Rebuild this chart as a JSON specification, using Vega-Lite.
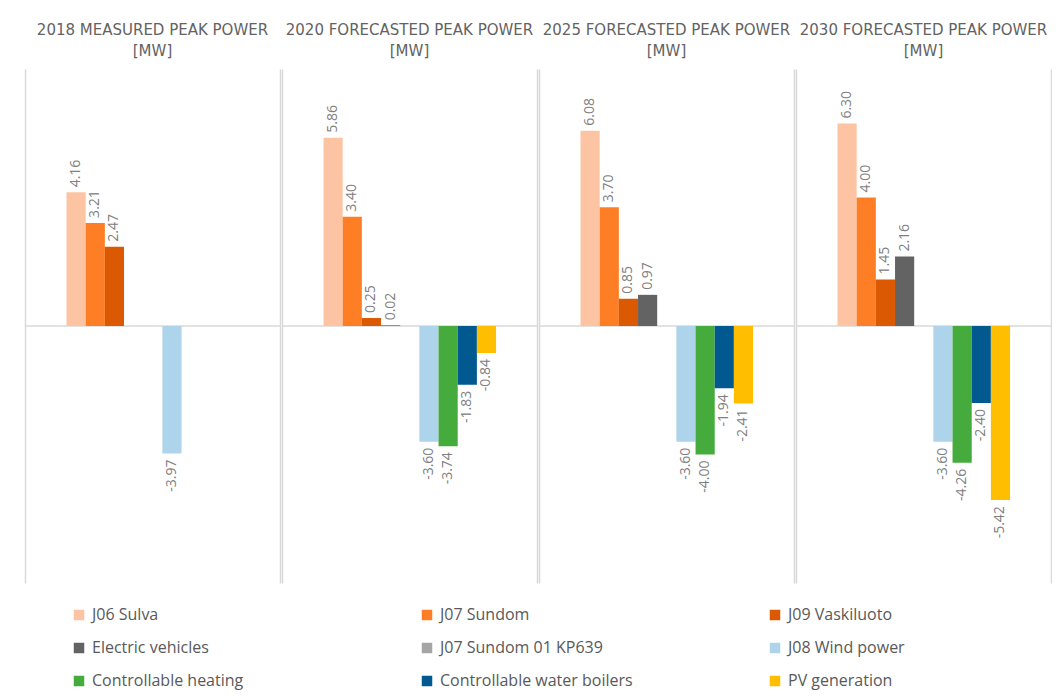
{
  "$schema": "https://vega.github.io/schema/vega-lite/v6.json",
  "background": "white",
  "padding": {"left": 24, "top": 23, "right": 0, "bottom": 10},
  "data": {
    "values": [
      {"panel": "2018 MEASURED PEAK POWER|[MW]", "series": "J06 Sulva", "value": 4.16},
      {"panel": "2018 MEASURED PEAK POWER|[MW]", "series": "J07 Sundom", "value": 3.21},
      {"panel": "2018 MEASURED PEAK POWER|[MW]", "series": "J09 Vaskiluoto", "value": 2.47},
      {"panel": "2018 MEASURED PEAK POWER|[MW]", "series": "J08 Wind power", "value": -3.97},
      {"panel": "2020 FORECASTED PEAK POWER|[MW]", "series": "J06 Sulva", "value": 5.86},
      {"panel": "2020 FORECASTED PEAK POWER|[MW]", "series": "J07 Sundom", "value": 3.40},
      {"panel": "2020 FORECASTED PEAK POWER|[MW]", "series": "J09 Vaskiluoto", "value": 0.25},
      {"panel": "2020 FORECASTED PEAK POWER|[MW]", "series": "Electric vehicles", "value": 0.02},
      {"panel": "2020 FORECASTED PEAK POWER|[MW]", "series": "J08 Wind power", "value": -3.60},
      {"panel": "2020 FORECASTED PEAK POWER|[MW]", "series": "Controllable heating", "value": -3.74},
      {"panel": "2020 FORECASTED PEAK POWER|[MW]", "series": "Controllable water boilers", "value": -1.83},
      {"panel": "2020 FORECASTED PEAK POWER|[MW]", "series": "PV generation", "value": -0.84},
      {"panel": "2025 FORECASTED PEAK POWER|[MW]", "series": "J06 Sulva", "value": 6.08},
      {"panel": "2025 FORECASTED PEAK POWER|[MW]", "series": "J07 Sundom", "value": 3.70},
      {"panel": "2025 FORECASTED PEAK POWER|[MW]", "series": "J09 Vaskiluoto", "value": 0.85},
      {"panel": "2025 FORECASTED PEAK POWER|[MW]", "series": "Electric vehicles", "value": 0.97},
      {"panel": "2025 FORECASTED PEAK POWER|[MW]", "series": "J08 Wind power", "value": -3.60},
      {"panel": "2025 FORECASTED PEAK POWER|[MW]", "series": "Controllable heating", "value": -4.00},
      {"panel": "2025 FORECASTED PEAK POWER|[MW]", "series": "Controllable water boilers", "value": -1.94},
      {"panel": "2025 FORECASTED PEAK POWER|[MW]", "series": "PV generation", "value": -2.41},
      {"panel": "2030 FORECASTED PEAK POWER|[MW]", "series": "J06 Sulva", "value": 6.30},
      {"panel": "2030 FORECASTED PEAK POWER|[MW]", "series": "J07 Sundom", "value": 4.00},
      {"panel": "2030 FORECASTED PEAK POWER|[MW]", "series": "J09 Vaskiluoto", "value": 1.45},
      {"panel": "2030 FORECASTED PEAK POWER|[MW]", "series": "Electric vehicles", "value": 2.16},
      {"panel": "2030 FORECASTED PEAK POWER|[MW]", "series": "J08 Wind power", "value": -3.60},
      {"panel": "2030 FORECASTED PEAK POWER|[MW]", "series": "Controllable heating", "value": -4.26},
      {"panel": "2030 FORECASTED PEAK POWER|[MW]", "series": "Controllable water boilers", "value": -2.40},
      {"panel": "2030 FORECASTED PEAK POWER|[MW]", "series": "PV generation", "value": -5.42}
    ]
  },
  "facet": {
    "column": {
      "field": "panel",
      "type": "nominal",
      "title": null,
      "header": {
        "labelExpr": "split(datum.value, '|')",
        "labelFont": "DejaVu Sans",
        "labelFontSize": 15,
        "labelColor": "#636363",
        "labelLineHeight": 21,
        "labelPadding": 10
      }
    }
  },
  "spacing": 0,
  "resolve": {"axis": {"y": "independent"}},
  "spec": {
    "width": 255,
    "height": 514,
    "layer": [
      {
        "transform": [{"aggregate": [{"op": "count", "as": "n"}], "groupby": ["panel"]}],
        "mark": {"type": "rule", "color": "#d9d9d9", "strokeWidth": 1.5},
        "encoding": {
          "y": {"datum": 0, "type": "quantitative", "scale": {"domain": [-8, 8], "nice": false}, "axis": {"orient": "left"}}
        }
      },
      {
        "mark": {"type": "bar"},
        "encoding": {
          "x": {
            "field": "series",
            "type": "nominal",
            "axis": null,
            "scale": {
              "domain": ["pad1", "pad2", "J06 Sulva", "J07 Sundom", "J09 Vaskiluoto", "Electric vehicles", "J07 Sundom 01 KP639", "J08 Wind power", "Controllable heating", "Controllable water boilers", "PV generation", "pad3", "pad4"],
              "paddingInner": 0,
              "paddingOuter": 0.15,
              "align": 0.55
            }
          },
          "y": {"field": "value", "type": "quantitative", "axis": {"orient": "right"}},
          "color": {
            "field": "series",
            "type": "nominal",
            "scale": {
              "domain": ["J06 Sulva", "J07 Sundom", "J09 Vaskiluoto", "Electric vehicles", "J07 Sundom 01 KP639", "J08 Wind power", "Controllable heating", "Controllable water boilers", "PV generation"],
              "range": ["#fdc4a4", "#fd7e24", "#dc5903", "#636363", "#a5a5a5", "#aed4eb", "#44ab3c", "#02598f", "#ffbe00"]
            },
            "legend": {
              "title": null,
              "orient": "none",
              "legendX": 46,
              "legendY": 538,
              "columns": 3,
              "direction": "horizontal",
              "gridAlign": "all",
              "columnPadding": 134,
              "rowPadding": 17,
              "symbolType": "square",
              "symbolSize": 110,
              "symbolStrokeWidth": 0,
              "labelFont": "Open Sans",
              "labelFontSize": 16,
              "labelColor": "#595959",
              "labelOffset": 5,
              "labelLimit": 300
            }
          }
        }
      },
      {
        "mark": {
          "type": "text",
          "angle": -90,
          "baseline": "middle",
          "font": "Open Sans",
          "fontSize": 14,
          "color": "#808080",
          "align": {"expr": "datum.value >= 0 ? 'left' : 'right'"},
          "dx": {"expr": "datum.value >= 0 ? 5 : -6"}
        },
        "encoding": {
          "x": {"field": "series", "type": "nominal"},
          "y": {"field": "value", "type": "quantitative", "axis": null},
          "text": {"field": "value", "type": "quantitative", "format": ".2f"}
        }
      }
    ],
    "resolve": {"axis": {"y": "independent"}}
  },
  "config": {
    "locale": {
      "number": {"decimal": ".", "thousands": ",", "grouping": [3], "currency": ["$", ""], "minus": "-"}
    },
    "view": {"stroke": null},
    "axis": {
      "domainColor": "#d9d9d9",
      "domainWidth": 1.5,
      "ticks": false,
      "labels": false,
      "title": null,
      "grid": false
    }
  }
}
